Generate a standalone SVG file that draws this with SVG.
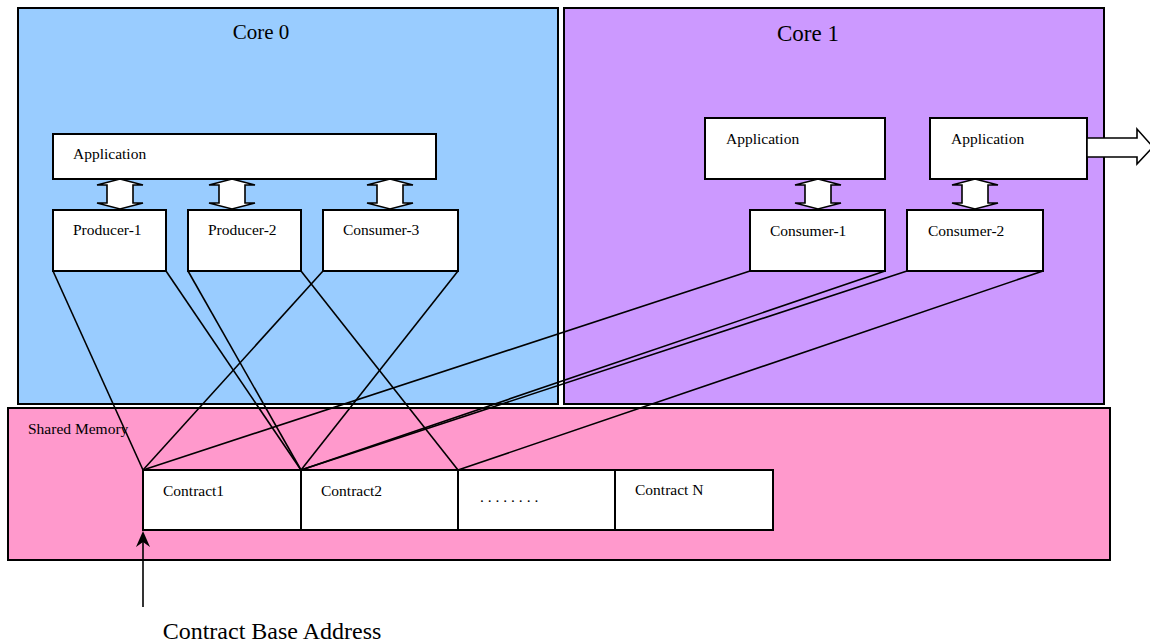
<svg xmlns="http://www.w3.org/2000/svg" width="1150" height="643" viewBox="0 0 1150 643">
  <style>
    .region { stroke: #000; stroke-width: 2; }
    .box { fill: #fff; stroke: #000; stroke-width: 2; }
    .blk { fill: #fff; stroke: #000; stroke-width: 1.6; stroke-linejoin: miter; }
    .lbl { font-family: "Liberation Serif", "Times New Roman", serif; font-size: 15.5px; fill: #000; }
    .title { font-family: "Liberation Serif", "Times New Roman", serif; fill: #000; text-anchor: middle; }
    .wire { stroke: #000; stroke-width: 1.6; fill: none; }
  </style>
  <defs>
    <!-- vertical double-headed block arrow, centred on x=0, spanning y 0..30 -->
    <path id="dbl" class="blk" d="M0,0 L23,6 L13,6 L13,24 L23,24 L0,30 L-23,24 L-13,24 L-13,6 L-23,6 Z"/>
  </defs>

  <rect width="1150" height="643" fill="#fff"/>

  <!-- processor cores -->
  <g id="core0">
    <rect class="region" x="18" y="8" width="540" height="396" fill="#99ccff"/>
    <text class="title" x="261" y="39" font-size="21">Core 0</text>
  </g>
  <g id="core1">
    <rect class="region" x="564" y="8" width="540" height="396" fill="#cc99ff"/>
    <text class="title" x="808" y="41" font-size="23">Core 1</text>
  </g>

  <!-- shared memory region -->
  <g id="shared-memory">
    <rect class="region" x="8" y="408" width="1102" height="152" fill="#ff99cc"/>
    <text class="lbl" x="28" y="434">Shared Memory</text>
  </g>

  <!-- core 0 blocks -->
  <g id="c0-application">
    <rect class="box" x="53" y="134" width="383" height="45"/>
    <text class="lbl" x="73" y="159">Application</text>
  </g>
  <g id="producer-1">
    <rect class="box" x="53" y="210" width="113" height="61"/>
    <text class="lbl" x="73" y="235">Producer-1</text>
  </g>
  <g id="producer-2">
    <rect class="box" x="188" y="210" width="113" height="61"/>
    <text class="lbl" x="208" y="235">Producer-2</text>
  </g>
  <g id="consumer-3">
    <rect class="box" x="323" y="210" width="135" height="61"/>
    <text class="lbl" x="343" y="235">Consumer-3</text>
  </g>

  <!-- core 1 blocks -->
  <g id="c1-application-1">
    <rect class="box" x="705" y="118" width="180" height="61"/>
    <text class="lbl" x="726" y="144">Application</text>
  </g>
  <g id="c1-application-2">
    <rect class="box" x="930" y="118" width="157" height="61"/>
    <text class="lbl" x="951" y="144">Application</text>
  </g>
  <g id="consumer-1">
    <rect class="box" x="750" y="210" width="135" height="61"/>
    <text class="lbl" x="770" y="236">Consumer-1</text>
  </g>
  <g id="consumer-2">
    <rect class="box" x="907" y="210" width="136" height="61"/>
    <text class="lbl" x="928" y="236">Consumer-2</text>
  </g>

  <!-- contract table -->
  <g id="contract-1">
    <rect class="box" x="143" y="470" width="158" height="60"/>
    <text class="lbl" x="163" y="496">Contract1</text>
  </g>
  <g id="contract-2">
    <rect class="box" x="301" y="470" width="157" height="60"/>
    <text class="lbl" x="321" y="496">Contract2</text>
  </g>
  <g id="contract-more">
    <rect class="box" x="458" y="470" width="157" height="60"/>
    <text class="lbl" x="480" y="502" letter-spacing="3.9">........</text>
  </g>
  <g id="contract-n">
    <rect class="box" x="615" y="470" width="158" height="60"/>
    <text class="lbl" x="635" y="495">Contract N</text>
  </g>

  <!-- connectors -->
  <g id="connectors">
    <!-- application <-> producer/consumer interfaces -->
    <use href="#dbl" x="120" y="179"/>
    <use href="#dbl" x="232" y="179"/>
    <use href="#dbl" x="390" y="179"/>
    <use href="#dbl" x="818" y="179"/>
    <use href="#dbl" x="975" y="179"/>
    <!-- outbound arrow from second application -->
    <path class="blk" d="M1087,138 L1137,138 L1137,129 L1153,147 L1137,164 L1137,157 L1087,157 Z"/>

    <!-- producer/consumer links to contracts -->
    <line class="wire" x1="53" y1="271" x2="143" y2="470"/>
    <line class="wire" x1="166" y1="271" x2="301" y2="470"/>
    <line class="wire" x1="188" y1="271" x2="301" y2="470"/>
    <line class="wire" x1="301" y1="271" x2="458" y2="470"/>
    <line class="wire" x1="323" y1="271" x2="143" y2="470"/>
    <line class="wire" x1="458" y1="271" x2="301" y2="470"/>
    <line class="wire" x1="750" y1="271" x2="143" y2="470"/>
    <line class="wire" x1="885" y1="271" x2="301" y2="470"/>
    <line class="wire" x1="907" y1="271" x2="301" y2="470"/>
    <line class="wire" x1="1043" y1="271" x2="458" y2="470"/>

    <!-- base address pointer -->
    <line class="wire" x1="143" y1="607" x2="143" y2="540"/>
    <path d="M143,531 L136,547 L143,542 L150,547 Z" fill="#000"/>
  </g>

  <text class="title" x="272" y="639" font-size="24">Contract Base Address</text>
</svg>
